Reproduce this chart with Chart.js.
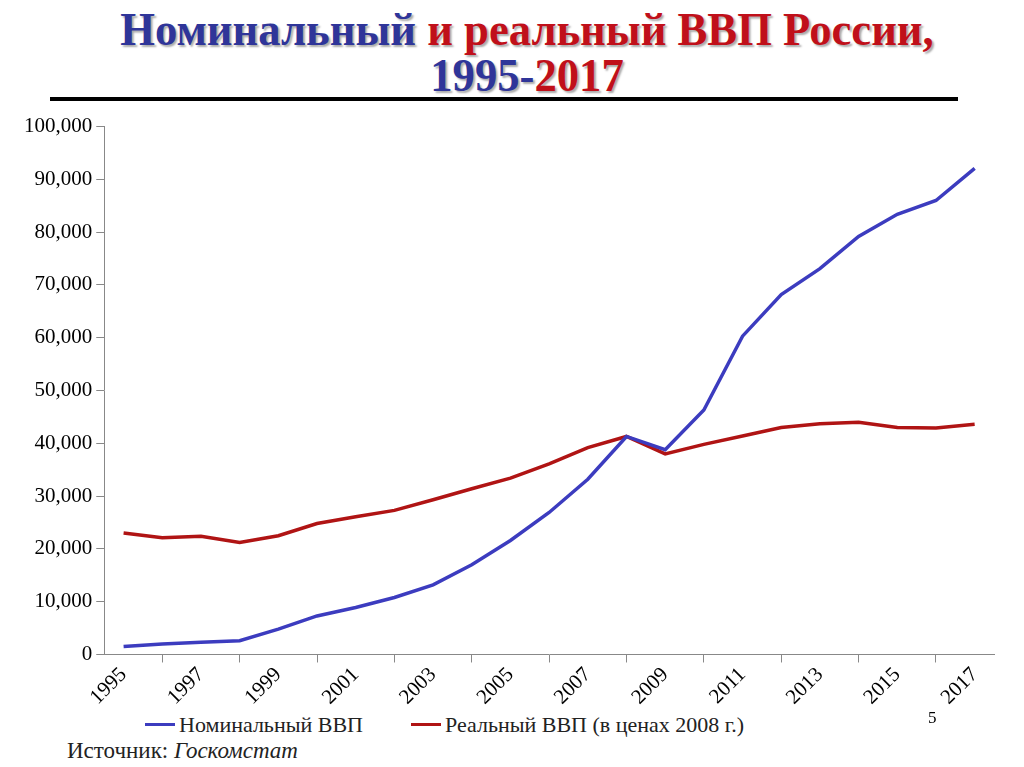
<!DOCTYPE html>
<html><head><meta charset="utf-8">
<script src="https://cdn.jsdelivr.net/npm/chart.js@4"></script>
<style>
body{margin:0;width:1024px;height:767px;background:#fff;position:relative;overflow:hidden;font-family:"Liberation Serif","Times New Roman","DejaVu Serif",serif}
#title{position:absolute;left:15px;top:6px;width:1024px;text-align:center;font-weight:bold;font-size:47px;line-height:46px;transform:scaleX(0.95);transform-origin:center top;text-shadow:2px 2px 2px #aaa}
.b{color:#2f3599}.r{color:#c0101a}
#rule{position:absolute;left:50px;top:97px;width:908px;height:4px;background:#000}
#wrap{position:absolute;left:0;top:110px;width:1024px;height:600px}
#leg{position:absolute;top:710px;left:145px;font-size:22px;color:#222}
#leg span{display:inline-block;vertical-align:middle}
.ln{width:30px;height:3px;margin-right:4px}
#src{position:absolute;top:738px;left:67px;font-size:23px;color:#222}
#pg{position:absolute;top:708px;left:928px;font-size:17px}
</style></head><body>
<div id="title"><span class="b">Номинальный</span> <span class="r">и реальный ВВП России,</span><br><span class="b">1995-</span><span class="r">2017</span></div>
<div id="rule"></div>
<div id="wrap"><canvas id="c" width="1024" height="600"></canvas></div>
<div id="leg"><span class="ln" style="background:#3c3cbf"></span><span>Номинальный ВВП</span><span style="width:48px"></span><span class="ln" style="background:#b01414"></span><span>Реальный ВВП (в ценах 2008 г.)</span></div>
<div id="pg">5</div>
<div id="src">Источник: <i>Госкомстат</i></div>
<script>
const years=['1995','1996','1997','1998','1999','2000','2001','2002','2003','2004','2005','2006','2007','2008','2009','2010','2011','2012','2013','2014','2015','2016','2017'];
const nominal=[1500,2000,2300,2600,4800,7300,8900,10800,13200,17000,21600,26900,33200,41300,38800,46300,60300,68200,73100,79200,83400,86000,92100];
const real=[23000,22100,22400,21200,22500,24800,26100,27300,29300,31400,33400,36100,39200,41300,38000,39800,41400,43000,43700,44000,43000,42900,43600];
const F='"Liberation Serif","Times New Roman","DejaVu Serif",serif';
new Chart(document.getElementById('c'),{type:'line',
data:{labels:years,datasets:[
{data:nominal,borderColor:'#3c3cbf',borderWidth:3.5,pointRadius:0,tension:0},
{data:real,borderColor:'#b01414',borderWidth:3.5,pointRadius:0,tension:0}]},
options:{responsive:false,animation:false,devicePixelRatio:1,
layout:{padding:{left:20,right:30,top:10,bottom:0}},
plugins:{legend:{display:false},tooltip:{enabled:false}},
scales:{
x:{offset:true,grid:{offset:true,drawOnChartArea:false,color:'#888',tickLength:8},border:{color:'#888',width:1},
 ticks:{color:'#000',font:{family:F,size:21},maxRotation:45,minRotation:45,padding:0}},
y:{min:0,max:100000,grid:{drawOnChartArea:false,color:'#888',tickLength:8},border:{color:'#888',width:1},
 ticks:{stepSize:10000,color:'#000',font:{family:F,size:21},padding:4}}
}}});
</script>
</body></html>
